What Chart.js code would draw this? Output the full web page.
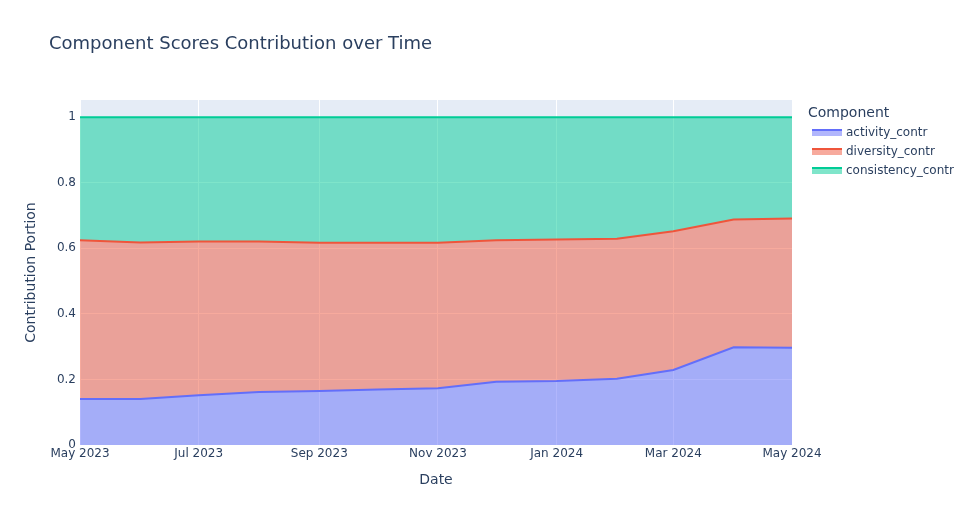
<!DOCTYPE html>
<html>
<head>
<meta charset="utf-8">
<script src="https://cdn.jsdelivr.net/npm/chart.js@4.4.0/dist/chart.umd.min.js"></script>
<style>
  html, body { margin: 0; padding: 0; background: #fff; }
  #wrap { width: 971px; height: 525px; position: relative; }
</style>
</head>
<body>
<div id="wrap"><canvas id="chart"></canvas></div>
<script>
// --- Data ---
const dates = ['2023-05-01','2023-06-01','2023-07-01','2023-08-01','2023-09-01','2023-10-01','2023-11-01',
               '2023-12-01','2024-01-01','2024-02-01','2024-03-01','2024-04-01','2024-05-01'];
const activityContr    = [0.140,0.140,0.152,0.162,0.165,0.169,0.173,0.193,0.195,0.202,0.229,0.298,0.297];
const diversityContr   = [0.485,0.478,0.469,0.459,0.452,0.448,0.444,0.432,0.432,0.427,0.423,0.390,0.394];
const consistencyContr = [0.375,0.382,0.379,0.379,0.383,0.383,0.383,0.375,0.373,0.371,0.348,0.312,0.309];
const tickDates  = ['2023-05-01','2023-07-01','2023-09-01','2023-11-01','2024-01-01','2024-03-01','2024-05-01'];
const tickLabels = ['May 2023','Jul 2023','Sep 2023','Nov 2023','Jan 2024','Mar 2024','May 2024'];
const seriesNames = ['activity_contr','diversity_contr','consistency_contr'];

const DAY = 86400000;
const t0 = Date.parse(dates[0]);
const toDay = d => Math.round((Date.parse(d) - t0) / DAY);
const xs = dates.map(toDay);
const tickXs = tickDates.map(toDay);

const FONT = '"DejaVu Sans", Verdana, sans-serif';
const TEXT = '#2a3f5f';
const colors = ['#636efa', '#EF553B', '#00cc96'];
const fills  = ['rgba(99,110,250,0.5)', 'rgba(239,85,59,0.5)', 'rgba(0,204,150,0.5)'];

function series(vals, i) {
    return {
        label: seriesNames[i],
        data: vals.map((v, k) => ({ x: xs[k], y: v })),
        borderColor: colors[i],
        backgroundColor: fills[i],
        borderWidth: 2,
        tension: 0,
        pointRadius: 0,
        fill: i === 0 ? 'origin' : '-1'
    };
}

// plot background + title + legend, plotly style
const plotlyDeco = {
    id: 'plotlyDeco',
    beforeDraw(chart) {
        const { ctx, chartArea: a } = chart;
        ctx.save();
        ctx.fillStyle = '#E5ECF6';
        ctx.fillRect(a.left, a.top, a.right - a.left, a.bottom - a.top);
        ctx.restore();
    },
    afterDraw(chart) {
        const ctx = chart.ctx;
        ctx.save();
        ctx.fillStyle = TEXT;
        ctx.textBaseline = 'middle';
        ctx.font = '18px ' + FONT;
        ctx.fillText('Component Scores Contribution over Time', 49, 44.5);

        ctx.font = '14px ' + FONT;
        ctx.fillText('Component', 808, 113);
        ctx.font = '12px ' + FONT;
        seriesNames.forEach((name, i) => {
            const y = 133 + i * 19;
            ctx.fillStyle = fills[i];
            ctx.fillRect(812, y - 3, 30, 6);
            ctx.strokeStyle = colors[i];
            ctx.lineWidth = 2;
            ctx.beginPath();
            ctx.moveTo(812, y - 3);
            ctx.lineTo(842, y - 3);
            ctx.stroke();
            ctx.fillStyle = TEXT;
            ctx.fillText(name, 846, y);
        });
        ctx.restore();
    }
};

new Chart(document.getElementById('chart'), {
    type: 'line',
    data: {
        datasets: [
            series(activityContr, 0),
            series(diversityContr, 1),
            series(consistencyContr, 2)
        ]
    },
    options: {
        responsive: true,
        maintainAspectRatio: false,
        animation: false,
        layout: { padding: { left: 0, right: 179, top: 100, bottom: 0 } },
        plugins: { legend: { display: false }, tooltip: { enabled: false }, title: { display: false } },
        scales: {
            x: {
                type: 'linear',
                min: 0,
                max: xs[xs.length - 1],
                afterBuildTicks: s => { s.ticks = tickXs.map(v => ({ value: v })); },
                afterFit: s => { s.height = 80; },
                grid: { color: '#ffffff', lineWidth: 1, drawTicks: false },
                border: { display: false },
                ticks: {
                    padding: 2,
                    maxRotation: 0,
                    autoSkip: false,
                    color: TEXT,
                    font: { family: FONT, size: 12 },
                    callback: v => tickLabels[tickXs.indexOf(v)] ?? ''
                },
                title: { display: true, text: 'Date', color: TEXT, font: { family: FONT, size: 14 },
                         padding: { top: 36, bottom: 36 } }
            },
            y: {
                stacked: true,
                min: 0,
                max: 1.0526,
                afterBuildTicks: s => { s.ticks = [0, 0.2, 0.4, 0.6, 0.8, 1].map(v => ({ value: v })); },
                afterFit: s => { s.width = 80; },
                grid: { color: '#ffffff', lineWidth: 1, drawTicks: false },
                border: { display: false },
                ticks: {
                    padding: 4,
                    color: TEXT,
                    font: { family: FONT, size: 12 },
                    callback: v => String(Math.round(v * 10) / 10)
                },
                title: { display: true, text: 'Contribution Portion', color: TEXT, font: { family: FONT, size: 14 },
                         padding: { top: 23, bottom: 23 } }
            }
        }
    },
    plugins: [plotlyDeco]
});
</script>
</body>
</html>
